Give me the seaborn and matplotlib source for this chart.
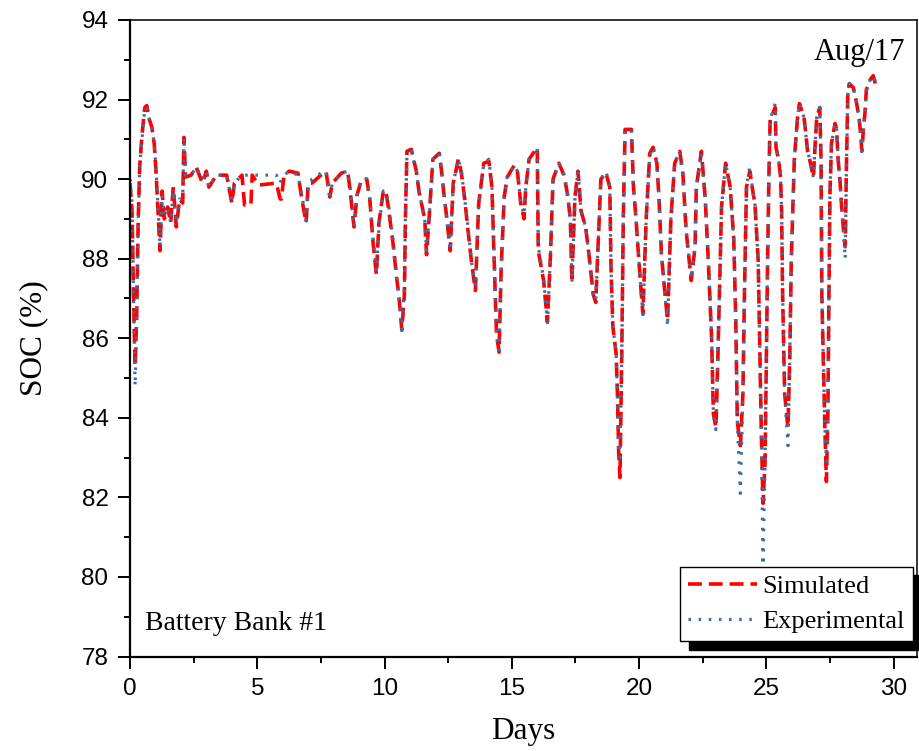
import matplotlib
matplotlib.use("Agg")
import matplotlib.pyplot as plt
from matplotlib.ticker import MultipleLocator
import seaborn as sns
import pandas as pd

days = [0.00, 0.08, 0.14, 0.20, 0.26, 0.32, 0.38, 0.47, 0.58, 0.66, 0.76, 0.86, 0.95, 1.02, 1.10,
        1.18, 1.26, 1.35, 1.48, 1.60, 1.70, 1.82, 1.95, 2.07, 2.12, 2.18, 2.40, 2.60, 2.85, 3.00,
        3.10, 3.40, 3.80, 4.00, 4.10, 4.40, 4.50, 4.75, 4.80, 5.05, 5.75, 5.90, 5.95, 6.05, 6.25,
        6.60, 6.75, 6.92, 7.00, 7.15, 7.50, 7.70, 7.85, 7.95, 8.30, 8.55, 8.65, 8.80, 8.92, 9.10,
        9.30, 9.42, 9.55, 9.68, 9.78, 9.95, 10.05, 10.15, 10.33, 10.48, 10.56, 10.68, 10.78, 10.82, 10.88,
        11.05, 11.25, 11.35, 11.58, 11.65, 11.75, 11.90, 12.15, 12.25, 12.32, 12.45, 12.58, 12.70, 12.90, 13.02,
        13.15, 13.28, 13.42, 13.57, 13.70, 13.90, 14.10, 14.22, 14.30, 14.40, 14.50, 14.58, 14.70, 14.82, 15.10,
        15.22, 15.35, 15.48, 15.55, 15.68, 16.00, 16.04, 16.25, 16.40, 16.52, 16.62, 16.85, 17.05, 17.18, 17.30,
        17.36, 17.48, 17.60, 17.72, 17.90, 18.05, 18.20, 18.30, 18.40, 18.50, 18.70, 18.85, 18.90, 18.97, 19.10,
        19.15, 19.20, 19.25, 19.32, 19.38, 19.45, 19.70, 19.78, 19.88, 20.02, 20.15, 20.28, 20.42, 20.55, 20.70,
        20.78, 20.88, 21.02, 21.12, 21.25, 21.40, 21.60, 21.72, 21.85, 22.05, 22.20, 22.25, 22.45, 22.60, 22.72,
        22.85, 22.92, 23.02, 23.10, 23.18, 23.24, 23.40, 23.58, 23.72, 23.80, 23.86, 23.98, 24.08, 24.14, 24.22,
        24.35, 24.48, 24.55, 24.68, 24.75, 24.80, 24.87, 24.95, 25.00, 25.05, 25.10, 25.15, 25.35, 25.38, 25.48,
        25.56, 25.60, 25.64, 25.72, 25.85, 25.92, 25.98, 26.10, 26.22, 26.30, 26.48, 26.55, 26.62, 26.70, 26.85,
        26.92, 26.98, 27.10, 27.15, 27.18, 27.24, 27.30, 27.36, 27.42, 27.46, 27.50, 27.56, 27.70, 27.76, 27.82,
        27.90, 27.96, 28.02, 28.10, 28.14, 28.20, 28.26, 28.42, 28.55, 28.65, 28.72, 28.75, 28.82, 28.88, 28.93,
        29.08, 29.20, 29.32]

soc_simulated = [89.9, 89.2, 87.0, 85.3, 86.5, 88.9, 90.3, 91.1, 91.8, 91.85, 91.5, 91.3, 90.9, 90.2, 89.2,
        88.2, 89.7, 89.0, 89.3, 88.9, 89.8, 88.8, 89.5, 89.4, 91.05, 90.05, 90.1, 90.3, 89.9, 90.2,
        89.8, 90.1, 90.1, 89.4, 89.9, 90.1, 89.35, 89.35, 90.1, 89.85, 89.9, 89.5, 89.5, 90.1, 90.2,
        90.15, 89.5, 88.9, 89.9, 89.9, 90.1, 90.2, 89.55, 89.9, 90.15, 90.2, 89.7, 88.8, 89.6, 90.0,
        90.0, 89.5, 88.4, 87.6, 88.9, 89.7, 89.7, 89.3, 88.4, 87.5, 87.1, 86.2, 87.1, 89.0, 90.7,
        90.75, 90.2, 89.7, 89.0, 88.1, 89.0, 90.5, 90.65, 90.15, 89.7, 89.0, 88.2, 89.9, 90.5, 90.15,
        89.5, 88.7, 87.9, 87.2, 89.4, 90.4, 90.45, 89.8, 88.1, 86.1, 85.65, 87.7, 89.55, 90.05, 90.35,
        90.2, 89.4, 89.0, 89.8, 90.5, 90.8, 88.2, 87.45, 86.4, 88.1, 90.0, 90.4, 90.1, 89.65, 89.0,
        87.4, 89.55, 90.2, 89.2, 88.8, 88.0, 87.1, 86.9, 88.5, 90.0, 90.15, 89.8, 87.7, 86.3, 85.6,
        84.6, 83.1, 82.5, 85.6, 89.0, 91.25, 91.25, 89.8, 89.0, 87.7, 86.6, 89.0, 90.65, 90.8, 90.4,
        89.55, 88.1, 87.1, 86.45, 89.0, 90.4, 90.7, 90.15, 88.7, 87.45, 88.3, 89.8, 90.7, 89.5, 87.95,
        86.0, 84.1, 83.75, 85.6, 87.7, 89.3, 90.4, 89.8, 88.5, 86.45, 83.9, 83.3, 84.6, 87.1, 89.8,
        90.2, 89.65, 89.4, 87.95, 85.45, 83.75, 81.85, 82.9, 85.45, 87.95, 90.05, 91.5, 91.8, 90.8, 90.5,
        90.05, 89.2, 87.1, 84.6, 83.75, 85.45, 87.95, 90.5, 91.5, 91.9, 91.55, 91.15, 90.7, 90.5, 90.05,
        90.9, 91.55, 91.8, 90.5, 87.1, 85.45, 83.75, 82.4, 84.2, 87.1, 89.65, 90.9, 91.4, 91.25, 90.5,
        89.9, 89.3, 88.8, 88.3, 90.05, 92.15, 92.4, 92.3, 91.9, 91.5, 91.05, 90.7, 91.3, 91.7, 92.25,
        92.5, 92.6, 92.3]

soc_experimental = [90.0, 89.4, 87.0, 84.8, 86.3, 88.8, 90.3, 91.0, 91.75, 91.8, 91.5, 91.3, 90.9, 90.3, 89.3,
        88.3, 89.6, 89.1, 89.3, 88.9, 89.7, 88.9, 89.5, 89.5, 91.05, 90.1, 90.1, 90.3, 90.0, 90.2,
        89.8, 90.1, 90.1, 89.4, 89.9, 90.1, 90.1, 90.1, 90.1, 90.1, 90.1, 89.9, 90.0, 90.1, 90.2,
        90.1, 89.6, 88.95, 89.8, 90.0, 90.15, 90.2, 89.6, 89.9, 90.15, 90.2, 89.8, 88.8, 89.6, 90.0,
        90.0, 89.5, 88.5, 87.7, 88.8, 89.7, 89.7, 89.4, 88.5, 87.5, 87.1, 86.2, 87.3, 89.0, 90.6,
        90.7, 90.2, 89.7, 89.0, 88.2, 89.0, 90.5, 90.65, 90.2, 89.7, 89.0, 88.2, 89.9, 90.5, 90.2,
        89.5, 88.8, 87.9, 87.3, 89.3, 90.4, 90.5, 89.8, 88.2, 86.1, 85.7, 87.6, 89.5, 90.05, 90.35,
        90.2, 89.4, 89.1, 89.8, 90.5, 90.7, 88.3, 87.5, 86.4, 88.1, 90.0, 90.4, 90.1, 89.7, 89.0,
        87.4, 89.5, 90.2, 89.2, 88.8, 88.0, 87.1, 86.95, 88.5, 90.0, 90.2, 89.8, 87.7, 86.3, 85.6,
        84.6, 83.3, 83.0, 85.5, 89.0, 91.2, 91.25, 89.8, 89.0, 87.7, 86.6, 89.0, 90.6, 90.8, 90.4,
        89.6, 88.1, 87.1, 86.3, 89.0, 90.4, 90.7, 90.1, 88.7, 87.5, 88.3, 89.8, 90.65, 89.5, 88.0,
        86.0, 84.1, 83.7, 85.6, 87.7, 89.3, 90.4, 89.8, 88.5, 86.45, 83.9, 82.1, 84.6, 87.1, 89.8,
        90.3, 89.65, 89.4, 87.95, 85.45, 83.75, 80.3, 82.9, 85.45, 87.95, 90.05, 91.5, 91.9, 90.8, 90.5,
        90.05, 89.2, 87.1, 84.6, 83.3, 85.45, 87.95, 90.5, 91.5, 91.9, 91.55, 91.15, 90.7, 90.5, 90.05,
        90.9, 91.55, 91.8, 90.5, 87.1, 85.45, 83.75, 82.9, 84.2, 87.1, 89.65, 90.9, 91.4, 91.3, 90.5,
        89.9, 89.3, 88.8, 88.0, 90.05, 92.1, 92.4, 92.3, 91.9, 91.5, 91.0, 90.7, 91.3, 91.7, 92.25,
        92.5, 92.6, 92.4]

x_ticks = [0, 5, 10, 15, 20, 25, 30]
y_ticks = [78, 80, 82, 84, 86, 88, 90, 92, 94]

sns.set_style("ticks")
plt.rcParams["font.family"] = ["Liberation Serif", "DejaVu Serif"]
plt.rcParams["lines.scale_dashes"] = False
plt.rcParams["text.color"] = "black"
plt.rcParams["axes.labelcolor"] = "black"
plt.rcParams["xtick.color"] = "black"
plt.rcParams["ytick.color"] = "black"

df = pd.DataFrame({"Days": days, "Simulated": soc_simulated, "Experimental": soc_experimental})

fig = plt.figure(figsize=(9.19, 7.51), dpi=100)
ax = fig.add_axes([130 / 919, 1 - 656.5 / 751, (916.5 - 130) / 919, (656.5 - 20) / 751])

sns.lineplot(data=df, x="Days", y="Simulated", ax=ax, color="#ff0000", linewidth=2.6,
             linestyle=(0, (10, 5)), sort=False, estimator=None, label="Simulated")
sns.lineplot(data=df, x="Days", y="Experimental", ax=ax, color="#3a6ea5", linewidth=2.3,
             linestyle=(0, (1.8, 5.5)), sort=False, estimator=None, label="Experimental")

ax.set_xlim(0, 30.9)
ax.set_ylim(78, 94)
ax.set_xticks(x_ticks)
ax.set_yticks(y_ticks)
ax.xaxis.set_minor_locator(MultipleLocator(2.5))
ax.yaxis.set_minor_locator(MultipleLocator(1))
ax.tick_params(which="major", direction="out", length=8.5, width=1.4, pad=7,
               labelsize=17.5, colors="black")
ax.tick_params(which="minor", direction="out", length=4.5, width=1.4, colors="black")
ax.tick_params(top=False, right=False)
for lab in ax.get_xticklabels() + ax.get_yticklabels():
    lab.set_fontfamily("Liberation Sans")
    lab.set_color("black")

for side in ["left", "bottom"]:
    ax.spines[side].set_linewidth(1.6)
    ax.spines[side].set_color("black")
for side in ["top", "right"]:
    ax.spines[side].set_visible(True)
    ax.spines[side].set_linewidth(1.1)
    ax.spines[side].set_color("black")

ax.set_xlabel("Days", fontsize=22.5, labelpad=12, color="black")
ax.set_ylabel("SOC (%)", fontsize=22.5, labelpad=24, color="black")

ax.text(0.986, 0.972, "Aug/17", transform=ax.transAxes, ha="right", va="top", fontsize=22,
        color="black")
ax.text(0.019, 0.041, "Battery Bank #1", transform=ax.transAxes, ha="left", va="baseline",
        fontsize=20, color="black")

leg = ax.legend(loc="lower right", bbox_to_anchor=(0.995, 0.024), fontsize=19,
                frameon=True, fancybox=False, edgecolor="black", framealpha=1,
                handlelength=2.6, handletextpad=0.2, borderpad=0.3, labelspacing=0.45,
                borderaxespad=0, shadow={"ox": 6, "oy": -6, "color": "black", "alpha": 1})
leg.get_frame().set_linewidth(1.0)
for t in leg.get_texts():
    t.set_color("black")

fig.savefig("out.png", dpi=100)
